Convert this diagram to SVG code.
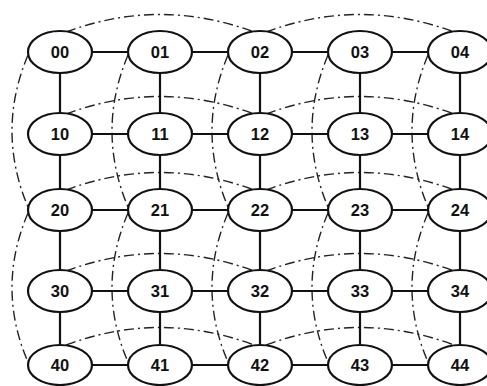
<svg xmlns="http://www.w3.org/2000/svg" width="487" height="386" viewBox="0 0 487 386">
<style>
.n ellipse{fill:#fff;stroke:#111;stroke-width:2.2}
.n text{font-family:"Liberation Sans",Arial,sans-serif;font-weight:bold;font-size:16.5px;fill:#111;text-anchor:middle;dominant-baseline:central}
.e line{stroke:#111;stroke-width:2.2}
.a path{fill:none;stroke:#222;stroke-width:1.4;stroke-dasharray:10 4 2 4}
</style>
<rect width="487" height="386" fill="#fff"/>
<g id="arcs" class="a">
<path d="M66 32 Q160 -3 254 32"/>
<path d="M266 32 Q360 -3 454 32"/>
<path d="M66 114 Q160 79 254 114"/>
<path d="M266 114 Q360 79 454 114"/>
<path d="M66 190 Q160 155 254 190"/>
<path d="M266 190 Q360 155 454 190"/>
<path d="M66 271 Q160 236 254 271"/>
<path d="M266 271 Q360 236 454 271"/>
<path d="M66 345 Q160 310 254 345"/>
<path d="M266 345 Q360 310 454 345"/>
<path d="M28 55 Q-4 131 28 207"/>
<path d="M28 213 Q-4 288 28 362"/>
<path d="M128 55 Q96 131 128 207"/>
<path d="M128 213 Q96 288 128 362"/>
<path d="M228 55 Q196 131 228 207"/>
<path d="M228 213 Q196 288 228 362"/>
<path d="M328 55 Q296 131 328 207"/>
<path d="M328 213 Q296 288 328 362"/>
<path d="M428 55 Q396 131 428 207"/>
<path d="M428 213 Q396 288 428 362"/>
</g>
<g id="edges" class="e">
<line x1="92" y1="52" x2="128" y2="52"/><line x1="192" y1="52" x2="228" y2="52"/><line x1="292" y1="52" x2="328" y2="52"/><line x1="392" y1="52" x2="428" y2="52"/>
<line x1="92" y1="134" x2="128" y2="134"/><line x1="192" y1="134" x2="228" y2="134"/><line x1="292" y1="134" x2="328" y2="134"/><line x1="392" y1="134" x2="428" y2="134"/>
<line x1="92" y1="210" x2="128" y2="210"/><line x1="192" y1="210" x2="228" y2="210"/><line x1="292" y1="210" x2="328" y2="210"/><line x1="392" y1="210" x2="428" y2="210"/>
<line x1="92" y1="291" x2="128" y2="291"/><line x1="192" y1="291" x2="228" y2="291"/><line x1="292" y1="291" x2="328" y2="291"/><line x1="392" y1="291" x2="428" y2="291"/>
<line x1="92" y1="365" x2="128" y2="365"/><line x1="192" y1="365" x2="228" y2="365"/><line x1="292" y1="365" x2="328" y2="365"/><line x1="392" y1="365" x2="428" y2="365"/>
<line x1="60" y1="73" x2="60" y2="113"/><line x1="160" y1="73" x2="160" y2="113"/><line x1="260" y1="73" x2="260" y2="113"/><line x1="360" y1="73" x2="360" y2="113"/><line x1="460" y1="73" x2="460" y2="113"/>
<line x1="60" y1="155" x2="60" y2="189"/><line x1="160" y1="155" x2="160" y2="189"/><line x1="260" y1="155" x2="260" y2="189"/><line x1="360" y1="155" x2="360" y2="189"/><line x1="460" y1="155" x2="460" y2="189"/>
<line x1="60" y1="231" x2="60" y2="270"/><line x1="160" y1="231" x2="160" y2="270"/><line x1="260" y1="231" x2="260" y2="270"/><line x1="360" y1="231" x2="360" y2="270"/><line x1="460" y1="231" x2="460" y2="270"/>
<line x1="60" y1="312" x2="60" y2="344"/><line x1="160" y1="312" x2="160" y2="344"/><line x1="260" y1="312" x2="260" y2="344"/><line x1="360" y1="312" x2="360" y2="344"/><line x1="460" y1="312" x2="460" y2="344"/>
</g>
<g id="n00" class="n"><ellipse cx="60" cy="52" rx="32" ry="21"/><text x="60" y="52">00</text></g>
<g id="n01" class="n"><ellipse cx="160" cy="52" rx="32" ry="21"/><text x="160" y="52">01</text></g>
<g id="n02" class="n"><ellipse cx="260" cy="52" rx="32" ry="21"/><text x="260" y="52">02</text></g>
<g id="n03" class="n"><ellipse cx="360" cy="52" rx="32" ry="21"/><text x="360" y="52">03</text></g>
<g id="n04" class="n"><ellipse cx="460" cy="52" rx="32" ry="21"/><text x="460" y="52">04</text></g>
<g id="n10" class="n"><ellipse cx="60" cy="134" rx="32" ry="21"/><text x="60" y="134">10</text></g>
<g id="n11" class="n"><ellipse cx="160" cy="134" rx="32" ry="21"/><text x="160" y="134">11</text></g>
<g id="n12" class="n"><ellipse cx="260" cy="134" rx="32" ry="21"/><text x="260" y="134">12</text></g>
<g id="n13" class="n"><ellipse cx="360" cy="134" rx="32" ry="21"/><text x="360" y="134">13</text></g>
<g id="n14" class="n"><ellipse cx="460" cy="134" rx="32" ry="21"/><text x="460" y="134">14</text></g>
<g id="n20" class="n"><ellipse cx="60" cy="210" rx="32" ry="21"/><text x="60" y="210">20</text></g>
<g id="n21" class="n"><ellipse cx="160" cy="210" rx="32" ry="21"/><text x="160" y="210">21</text></g>
<g id="n22" class="n"><ellipse cx="260" cy="210" rx="32" ry="21"/><text x="260" y="210">22</text></g>
<g id="n23" class="n"><ellipse cx="360" cy="210" rx="32" ry="21"/><text x="360" y="210">23</text></g>
<g id="n24" class="n"><ellipse cx="460" cy="210" rx="32" ry="21"/><text x="460" y="210">24</text></g>
<g id="n30" class="n"><ellipse cx="60" cy="291" rx="32" ry="21"/><text x="60" y="291">30</text></g>
<g id="n31" class="n"><ellipse cx="160" cy="291" rx="32" ry="21"/><text x="160" y="291">31</text></g>
<g id="n32" class="n"><ellipse cx="260" cy="291" rx="32" ry="21"/><text x="260" y="291">32</text></g>
<g id="n33" class="n"><ellipse cx="360" cy="291" rx="32" ry="21"/><text x="360" y="291">33</text></g>
<g id="n34" class="n"><ellipse cx="460" cy="291" rx="32" ry="21"/><text x="460" y="291">34</text></g>
<g id="n40" class="n"><ellipse cx="60" cy="365" rx="32" ry="20"/><text x="60" y="365">40</text></g>
<g id="n41" class="n"><ellipse cx="160" cy="365" rx="32" ry="20"/><text x="160" y="365">41</text></g>
<g id="n42" class="n"><ellipse cx="260" cy="365" rx="32" ry="20"/><text x="260" y="365">42</text></g>
<g id="n43" class="n"><ellipse cx="360" cy="365" rx="32" ry="20"/><text x="360" y="365">43</text></g>
<g id="n44" class="n"><ellipse cx="460" cy="365" rx="32" ry="20"/><text x="460" y="365">44</text></g>
</svg>
